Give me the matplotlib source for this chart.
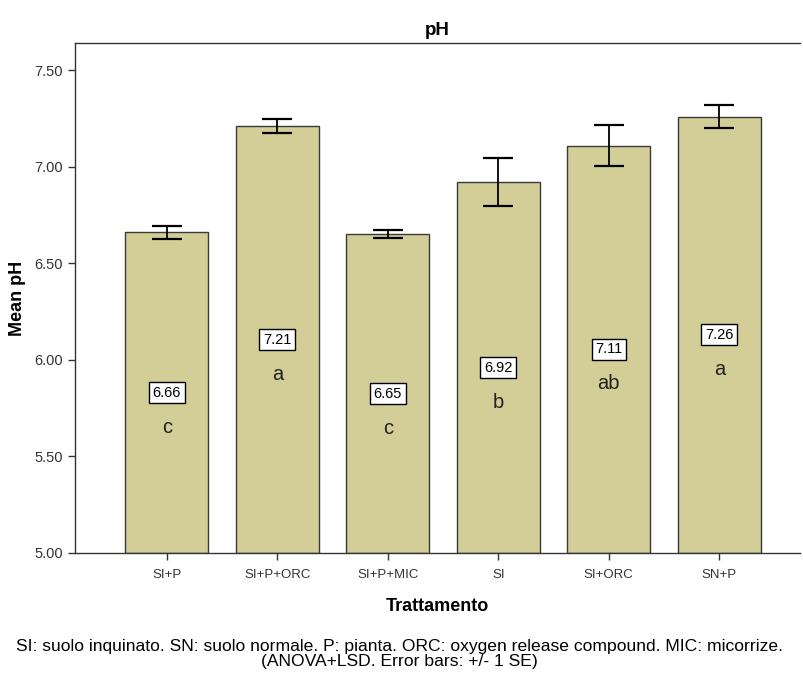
import matplotlib
matplotlib.use("Agg")
import matplotlib.pyplot as plt
import numpy as np

plt.rcParams['font.family'] = ['Liberation Sans', 'DejaVu Sans']

categories = ["SI+P", "SI+P+ORC", "SI+P+MIC", "SI", "SI+ORC", "SN+P"]
means = [6.66, 7.21, 6.65, 6.92, 7.11, 7.26]
se = [0.035, 0.035, 0.02, 0.125, 0.105, 0.06]
letters = ["c", "a", "c", "b", "ab", "a"]

fig = plt.figure(figsize=(8.04, 6.75), dpi=100)
ax = fig.add_axes([0.0933, 0.181, 0.9017, 0.755])

x = np.arange(len(categories))
ax.bar(x, np.array(means) - 5.0, bottom=5.0, width=0.75, color="#d3cd97",
       edgecolor="#3a3a3a", linewidth=1.0, zorder=2)
ax.errorbar(x, means, yerr=se, fmt="none", ecolor="black", elinewidth=1.3,
            capsize=11, capthick=1.6, zorder=3)

for xi, m, let in zip(x, means, letters):
    mid = 5.0 + (m - 5.0) / 2
    ax.text(xi, mid, f"{m:.2f}", ha="center", va="center", fontsize=10.5,
            color="black", zorder=4,
            bbox=dict(boxstyle="square,pad=0.25", facecolor="white",
                      edgecolor="black", linewidth=1.0))
    ax.text(xi, mid - 0.18, let, ha="center", va="center", fontsize=14.5,
            color="#222222", zorder=4)

ax.set_xlim(-0.83, 5.73)
ax.set_ylim(5.0, 7.64)
ax.set_yticks([5.0, 5.5, 6.0, 6.5, 7.0, 7.5])
ax.set_yticklabels(["5.00", "5.50", "6.00", "6.50", "7.00", "7.50"])
ax.set_xticks(x)
ax.set_xticklabels(categories, fontsize=9.5)
ax.tick_params(axis="both", colors="#333333", length=5, width=1.0)
ax.tick_params(axis="y", labelsize=10.5)
ax.tick_params(axis="x", pad=7)

for s in ["left", "top", "bottom"]:
    ax.spines[s].set_color("#333333")
    ax.spines[s].set_linewidth(1.0)
ax.spines["right"].set_visible(False)

ax.set_title("pH", fontsize=13.5, fontweight="bold", pad=6)
ax.set_ylabel("Mean pH", fontsize=13, fontweight="bold", labelpad=6)
ax.set_xlabel("Trattamento", fontsize=13, fontweight="bold", labelpad=12)

fig.text(0.497, 0.031, "SI: suolo inquinato. SN: suolo normale. P: pianta. ORC: oxygen release compound. MIC: micorrize.\n(ANOVA+LSD. Error bars: +/- 1 SE)",
         ha="center", va="center", fontsize=12.6, linespacing=1.05)

fig.savefig("out.png", dpi=100)
